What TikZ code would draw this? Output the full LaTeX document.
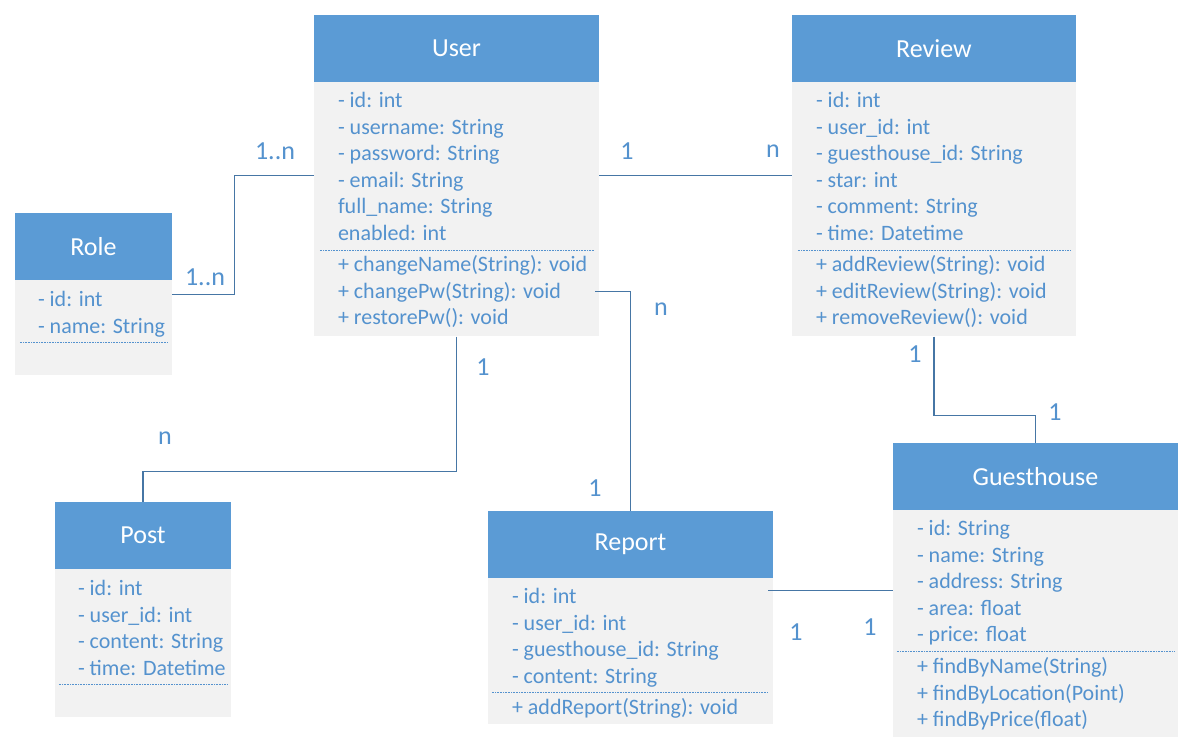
\documentclass[tikz,border=0pt]{standalone}
\usepackage{fontspec}
\setmainfont{Carlito}
\usetikzlibrary{positioning,calc}

\definecolor{umlblue}{RGB}{91,155,213}
\definecolor{umlgray}{RGB}{242,242,242}
\definecolor{linkblue}{RGB}{70,118,165}
\definecolor{txtblue}{RGB}{84,146,206}

\tikzset{
  head/.style={fill=umlblue, text=white, inner sep=0pt, font=\fontsize{26}{30}\selectfont},
  body/.style={fill=umlgray, inner sep=0pt, anchor=north},
  attr/.style={anchor=west, text=txtblue, inner sep=0pt, text height=0.72em, text depth=0.22em,
    font=\fontsize{22}{26}\selectfont},
  card/.style={text=txtblue, inner sep=0pt, font=\fontsize{26}{30}\selectfont},
  sep/.style={txtblue, densely dotted, line width=0.6pt},
  link/.style={linkblue, line width=1.1pt},
}

\begin{document}
\begin{tikzpicture}[x=1pt,y=-1pt]
  \useasboundingbox[fill=white] (0,0) rectangle (1192,737);

  % User
  \node[head, minimum width=285pt, minimum height=67pt] (user) at (456.5,48.5) {User};
  \node[body, minimum width=285pt, minimum height=254pt] (userbody) at (user.south) {};
  \foreach \t [count=\i from 0] in {- id: int, - username: String, - password: String,
      - email: String, full\_name: String, enabled: int}
    \node[attr] (user-a\i) at ($(userbody.north west)+(24,23+26.5*\i)$) {\t};
  \draw[sep] ($(userbody.north west)+(6,168)$) -- ($(userbody.north east)+(-5,168)$);
  \foreach \t [count=\i from 0] in {+ changeName(String): void, + changePw(String): void,
      + restorePw(): void}
    \node[attr] (user-m\i) at ($(userbody.north west)+(24,187+26.5*\i)$) {\t};

  % Review
  \node[head, minimum width=284pt, minimum height=67pt] (review) at (934,48.5) {Review};
  \node[body, minimum width=284pt, minimum height=254pt] (reviewbody) at (review.south) {};
  \foreach \t [count=\i from 0] in {- id: int, - user\_id: int, - guesthouse\_id: String,
      - star: int, - comment: String, - time: Datetime}
    \node[attr] (review-a\i) at ($(reviewbody.north west)+(24,23+26.5*\i)$) {\t};
  \draw[sep] ($(reviewbody.north west)+(6,168)$) -- ($(reviewbody.north east)+(-5,168)$);
  \foreach \t [count=\i from 0] in {+ addReview(String): void, + editReview(String): void,
      + removeReview(): void}
    \node[attr] (review-m\i) at ($(reviewbody.north west)+(24,187+26.5*\i)$) {\t};

  % Role
  \node[head, minimum width=157pt, minimum height=67pt] (role) at (93.5,246.5) {Role};
  \node[body, minimum width=157pt, minimum height=95pt] (rolebody) at (role.south) {};
  \foreach \t [count=\i from 0] in {- id: int, - name: String}
    \node[attr] (role-a\i) at ($(rolebody.north west)+(23,24+26.5*\i)$) {\t};
  \draw[sep] ($(rolebody.north west)+(5,62)$) -- ($(rolebody.north east)+(-5,62)$);

  % Post
  \node[head, minimum width=176pt, minimum height=67pt] (post) at (143,535.5) {Post};
  \node[body, minimum width=176pt, minimum height=148pt] (postbody) at (post.south) {};
  \foreach \t [count=\i from 0] in {- id: int, - user\_id: int, - content: String, - time: Datetime}
    \node[attr] (post-a\i) at ($(postbody.north west)+(23,24+26.5*\i)$) {\t};
  \draw[sep] ($(postbody.north west)+(4,115)$) -- ($(postbody.north east)+(-4,115)$);

  % Report
  \node[head, minimum width=285pt, minimum height=67pt] (report) at (630.5,544.5) {Report};
  \node[body, minimum width=285pt, minimum height=146pt] (reportbody) at (report.south) {};
  \foreach \t [count=\i from 0] in {- id: int, - user\_id: int, - guesthouse\_id: String,
      - content: String}
    \node[attr] (report-a\i) at ($(reportbody.north west)+(24,23+26.5*\i)$) {\t};
  \draw[sep] ($(reportbody.north west)+(4,114)$) -- ($(reportbody.north east)+(-5,114)$);
  \node[attr] (report-m0) at ($(reportbody.north west)+(24,134)$) {+ addReport(String): void};

  % Guesthouse
  \node[head, minimum width=285pt, minimum height=67pt] (guest) at (1035.5,476.5) {Guesthouse};
  \node[body, minimum width=285pt, minimum height=227pt] (guestbody) at (guest.south) {};
  \foreach \t [count=\i from 0] in {- id: String, - name: String, - address: String,
      - area: float, - price: float}
    \node[attr] (guest-a\i) at ($(guestbody.north west)+(24,23+26.5*\i)$) {\t};
  \draw[sep] ($(guestbody.north west)+(4,141)$) -- ($(guestbody.north east)+(-4,141)$);
  \foreach \t [count=\i from 0] in {+ findByName(String), + findByLocation(Point),
      + findByPrice(float)}
    \node[attr] (guest-m\i) at ($(guestbody.north west)+(24,161+26.5*\i)$) {\t};

  % connectors
  \coordinate (u-role) at ($(userbody.north west)+(0,93)$);
  \coordinate (r-user) at ($(rolebody.north east)+(0,14)$);
  \draw[link] (u-role) -- ++(-79,0) |- (r-user);
  \draw[link] ($(userbody.north east)+(0,93)$) -- ($(reviewbody.north west)+(0,93)$);
  \coordinate (u-rep) at ($(userbody.north east)+(-4,209)$);
  \draw[link] (u-rep) -| (report.north);
  \draw[link] (userbody.south) -- ++(0,135) -| (post.north);
  \draw[link] (reviewbody.south) -- ++(0,79) -| (guest.north);
  \coordinate (rep-g) at ($(reportbody.north east)+(-5,12)$);
  \draw[link] (rep-g) -- (rep-g -| guestbody.west);

  % multiplicities
  \node[card] (c1) at (275,151) {1..n};
  \node[card] (c2) at (205,277) {1..n};
  \node[card] (c3) at (627,151) {1};
  \node[card] (c4) at (773,151) {n};
  \node[card] (c5) at (661,309) {n};
  \node[card] (c6) at (595,488) {1};
  \node[card] (c7) at (483,367) {1};
  \node[card] (c8) at (165,438) {n};
  \node[card] (c9) at (915,354) {1};
  \node[card] (c10) at (1055,412) {1};
  \node[card] (c11) at (796,632) {1};
  \node[card] (c12) at (870,627) {1};
\end{tikzpicture}
\end{document}
